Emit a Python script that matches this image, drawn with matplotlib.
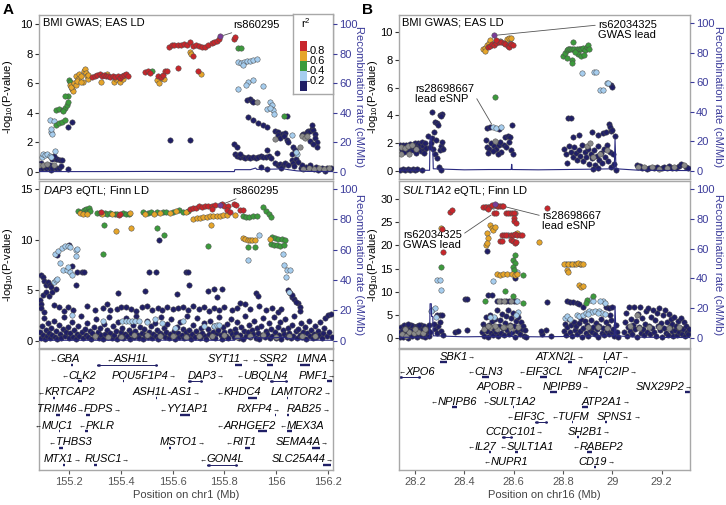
import matplotlib
matplotlib.use("Agg")
import matplotlib.pyplot as plt

plt.rcParams['font.family'] = ['Liberation Sans', 'DejaVu Sans']
plt.rcParams['mathtext.fontset'] = 'custom'
plt.rcParams['mathtext.rm'] = 'Liberation Sans'
plt.rcParams['mathtext.it'] = 'Liberation Sans:italic'

# ---- LD colour codes: n<0.2, b 0.2-0.4, g 0.4-0.6, o 0.6-0.8, r >0.8, p lead, x no LD ----
ld_colors = {'n': '#201f66', 'x': '#8a8a8a', 'b': '#a6cdee', 'g': '#3c9a3c',
             'o': '#e6a52a', 'r': '#c8262b', 'p': '#7a3d97'}

# ================= panel A, BMI GWAS (EAS LD) =================
gwas_a = [
    (155.070, 0.55, 'n'), (155.075, 0.35, 'n'), (155.080, 0.2, 'n'), (155.085, 0.45, 'x'), (155.090, 0.6, 'n'),
    (155.095, 0.3, 'n'), (155.100, 0.5, 'x'), (155.105, 0.4, 'n'), (155.110, 0.25, 'n'), (155.115, 0.55, 'x'),
    (155.120, 0.35, 'n'), (155.125, 0.45, 'n'), (155.130, 0.15, 'n'), (155.135, 0.3, 'n'), (155.140, 0.5, 'x'),
    (155.150, 0.3, 'n'), (155.160, 0.25, 'n'), (155.170, 0.4, 'n'), (155.197, 0.2, 'n'),
    (155.095, 1.0, 'b'), (155.100, 1.2, 'b'), (155.108, 1.15, 'b'), (155.115, 1.2, 'b'), (155.125, 1.1, 'b'),
    (155.130, 1.0, 'b'), (155.145, 1.4, 'b'),
    (155.135, 0.85, 'n'), (155.148, 0.9, 'n'), (155.155, 0.85, 'n'), (155.165, 0.8, 'n'), (155.172, 0.8, 'n'),
    (155.140, 1.05, 'n'),
    (155.125, 3.5, 'b'), (155.130, 2.7, 'b'), (155.135, 2.6, 'b'), (155.140, 3.45, 'b'), (155.132, 2.9, 'b'),
    (155.150, 3.2, 'g'), (155.160, 3.3, 'g'), (155.172, 3.4, 'g'), (155.185, 3.5, 'g'), (155.150, 4.2, 'g'),
    (155.160, 4.25, 'g'), (155.175, 4.2, 'g'), (155.185, 4.3, 'g'), (155.192, 4.5, 'g'), (155.195, 4.7, 'g'),
    (155.197, 5.1, 'g'), (155.185, 5.15, 'g'), (155.178, 4.1, 'g'),
    (155.197, 3.05, 'n'), (155.210, 3.35, 'n'),
    (155.199, 6.2, 'g'), (155.204, 6.1, 'g'), (155.205, 5.9, 'o'), (155.210, 5.6, 'o'), (155.214, 5.5, 'o'),
    (155.208, 5.75, 'o'), (155.220, 6.0, 'o'), (155.225, 5.85, 'o'), (155.228, 6.5, 'o'), (155.233, 6.4, 'x'),
    (155.236, 6.3, 'o'), (155.240, 6.6, 'o'), (155.244, 6.5, 'g'), (155.248, 6.45, 'o'), (155.252, 6.1, 'o'),
    (155.256, 6.8, 'o'), (155.260, 6.95, 'o'), (155.264, 6.7, 'o'), (155.268, 6.5, 'o'), (155.272, 6.3, 'o'),
    (155.232, 6.15, 'o'), (155.246, 6.05, 'o'), (155.275, 6.55, 'o'),
    (155.290, 6.4, 'r'), (155.300, 6.5, 'r'), (155.308, 6.55, 'r'), (155.318, 6.6, 'r'), (155.326, 6.5, 'r'),
    (155.335, 6.55, 'r'), (155.343, 6.45, 'r'), (155.350, 6.45, 'r'), (155.360, 6.4, 'r'), (155.368, 6.45, 'r'),
    (155.378, 6.4, 'r'), (155.388, 6.45, 'r'), (155.395, 6.35, 'r'), (155.405, 6.5, 'r'), (155.412, 6.55, 'r'),
    (155.420, 6.6, 'r'), (155.428, 6.5, 'r'),
    (155.322, 6.05, 'o'), (155.345, 6.6, 'o'), (155.372, 6.1, 'o'), (155.383, 6.25, 'o'), (155.398, 6.05, 'o'),
    (155.410, 6.3, 'o'),
    (155.495, 6.75, 'r'), (155.505, 6.8, 'r'), (155.512, 6.7, 'r'), (155.545, 6.45, 'r'), (155.555, 6.4, 'r'),
    (155.562, 6.55, 'r'), (155.571, 6.85, 'r'), (155.578, 6.8, 'r'), (155.520, 6.85, 'g'),
    (155.538, 6.2, 'o'), (155.546, 6.0, 'o'), (155.557, 6.35, 'o'), (155.565, 6.3, 'o'),
    (155.622, 7.0, 'r'), (155.699, 6.8, 'r'), (155.711, 6.65, 'o'),
    (155.590, 2.15, 'n'), (155.667, 2.15, 'n'),
    (155.587, 8.45, 'r'), (155.597, 8.55, 'r'), (155.606, 8.6, 'r'), (155.620, 8.6, 'r'), (155.632, 8.55, 'r'),
    (155.645, 8.65, 'r'), (155.655, 8.6, 'r'), (155.667, 8.75, 'r'), (155.678, 8.5, 'r'), (155.690, 8.55, 'r'),
    (155.700, 8.5, 'r'), (155.712, 8.45, 'r'), (155.725, 8.45, 'r'), (155.738, 8.6, 'r'), (155.750, 8.7, 'r'),
    (155.760, 8.8, 'r'), (155.770, 8.85, 'r'), (155.777, 8.95, 'r'),
    (155.667, 8.1, 'o'), (155.672, 8.0, 'o'), (155.680, 7.85, 'r'),
    (155.835, 9.0, 'r'), (155.841, 9.1, 'r'), (155.854, 8.4, 'g'), (155.862, 8.35, 'g'),
    (155.854, 7.45, 'b'), (155.865, 7.35, 'b'), (155.875, 7.45, 'b'), (155.888, 7.5, 'b'), (155.900, 7.5, 'b'),
    (155.912, 7.55, 'b'), (155.925, 7.6, 'b'), (155.873, 7.2, 'b'),
    (155.854, 5.6, 'b'), (155.890, 6.1, 'b'), (155.912, 6.2, 'b'), (155.950, 5.8, 'b'), (155.884, 5.9, 'b'),
    (155.886, 4.85, 'n'), (155.899, 4.9, 'n'), (155.905, 4.8, 'n'), (155.912, 4.75, 'n'), (155.925, 4.75, 'x'),
    (155.976, 4.7, 'b'), (155.983, 4.5, 'b'), (155.989, 4.2, 'b'), (155.965, 4.25, 'b'), (155.992, 3.9, 'b'),
    (155.975, 4.35, 'b'), (156.028, 3.75, 'g'), (156.040, 3.75, 'n'),
    (155.892, 3.7, 'n'), (155.912, 3.5, 'n'), (155.931, 3.3, 'n'), (155.950, 3.2, 'n'), (155.963, 3.05, 'n'),
    (155.995, 2.8, 'n'), (156.008, 2.7, 'n'), (156.021, 2.6, 'n'), (156.034, 2.65, 'n'), (156.005, 2.5, 'n'),
    (156.015, 2.3, 'n'), (156.030, 2.45, 'n'), (155.995, 2.25, 'x'),
    (156.040, 2.15, 'n'), (156.047, 2.0, 'n'), (156.060, 2.5, 'b'), (156.066, 1.7, 'n'), (156.072, 1.5, 'n'),
    (156.060, 1.2, 'n'), (156.079, 1.25, 'b'), (156.075, 1.35, 'b'),
    (156.060, 0.8, 'n'), (156.065, 0.6, 'n'), (156.075, 0.9, 'n'), (156.085, 0.7, 'n'), (156.070, 0.4, 'n'),
    (156.098, 2.5, 'n'), (156.105, 2.55, 'n'), (156.111, 2.6, 'n'), (156.118, 2.7, 'n'), (156.124, 2.8, 'n'),
    (156.131, 2.75, 'n'), (156.137, 2.9, 'n'), (156.143, 2.85, 'n'), (156.137, 3.15, 'n'), (156.150, 2.6, 'n'),
    (156.150, 2.3, 'n'), (156.156, 2.0, 'n'), (156.156, 1.7, 'n'), (156.098, 2.45, 'x'), (156.111, 2.3, 'x'),
    (156.092, 1.7, 'x'), (156.118, 2.45, 'x'), (156.131, 2.1, 'n'), (156.143, 1.9, 'n'),
    (155.841, 1.2, 'n'), (155.850, 1.05, 'n'), (155.860, 1.0, 'n'), (155.870, 1.0, 'n'), (155.880, 0.95, 'n'),
    (155.890, 1.0, 'n'), (155.900, 0.95, 'n'), (155.910, 1.0, 'n'), (155.920, 0.95, 'n'), (155.930, 1.0, 'n'),
    (155.940, 1.05, 'n'), (155.950, 1.0, 'n'), (155.960, 1.0, 'n'), (155.970, 1.1, 'n'), (155.980, 0.95, 'n'),
    (155.835, 1.9, 'n'), (155.847, 1.7, 'n'), (155.860, 1.25, 'n'), (155.963, 1.5, 'n'), (156.002, 1.3, 'n'),
    (155.995, 0.6, 'n'), (156.005, 0.5, 'n'), (156.015, 0.55, 'n'), (156.025, 0.45, 'n'), (156.035, 0.6, 'n'),
    (156.045, 0.5, 'n'), (156.020, 0.3, 'n'), (155.963, 0.2, 'n'), (155.940, 0.35, 'n'),
    (156.095, 0.3, 'n'), (156.105, 0.2, 'x'), (156.115, 0.35, 'n'), (156.125, 0.25, 'x'), (156.135, 0.3, 'n'),
    (156.145, 0.2, 'x'), (156.155, 0.35, 'n'), (156.165, 0.25, 'x'), (156.175, 0.3, 'n'), (156.185, 0.2, 'x'),
    (156.195, 0.3, 'n'), (156.205, 0.25, 'x'), (156.212, 0.3, 'n'), (156.100, 0.45, 'n'), (156.130, 0.45, 'n'),
    (156.160, 0.15, 'n'), (156.190, 0.1, 'n'),
    (155.783, 9.15, 'p'),
]

# ================= panel A, DAP3 eQTL (Finn LD) =================
eqtl_a = [
    (155.236, 12.8, 'g'), (155.242, 12.6, 'o'), (155.246, 12.75, 'g'), (155.252, 12.5, 'o'), (155.258, 12.9, 'g'),
    (155.264, 13.0, 'g'), (155.270, 12.75, 'g'), (155.276, 13.1, 'g'), (155.268, 12.5, 'o'), (155.282, 12.8, 'g'),
    (155.307, 12.6, 'g'), (155.318, 12.6, 'g'), (155.328, 12.55, 'o'), (155.338, 12.6, 'g'), (155.348, 12.5, 'g'),
    (155.358, 12.6, 'g'), (155.366, 12.55, 'o'), (155.376, 12.5, 'g'), (155.386, 12.55, 'g'), (155.392, 12.45, 'r'),
    (155.398, 12.5, 'r'), (155.408, 12.6, 'g'), (155.418, 12.55, 'g'), (155.430, 12.55, 'g'), (155.435, 12.6, 'o'),
    (155.325, 12.7, 'r'),
    (155.486, 12.7, 'g'), (155.492, 12.55, 'o'), (155.506, 12.6, 'g'), (155.518, 12.7, 'g'), (155.528, 12.55, 'o'),
    (155.540, 12.7, 'g'), (155.551, 12.65, 'o'), (155.562, 12.75, 'g'), (155.575, 12.7, 'g'), (155.590, 12.65, 'o'),
    (155.603, 12.7, 'g'), (155.613, 12.85, 'o'), (155.625, 12.9, 'g'), (155.638, 12.75, 'g'), (155.650, 12.7, 'o'),
    (155.660, 12.8, 'g'),
    (155.680, 12.0, 'o'), (155.693, 12.1, 'o'), (155.706, 12.15, 'o'), (155.719, 12.2, 'o'), (155.732, 12.25, 'o'),
    (155.744, 12.3, 'o'), (155.757, 12.3, 'o'), (155.770, 12.35, 'o'), (155.783, 12.35, 'o'), (155.796, 12.4, 'o'),
    (155.810, 12.4, 'o'), (155.841, 12.45, 'o'),
    (155.667, 13.0, 'r'), (155.678, 13.15, 'r'), (155.690, 13.1, 'r'), (155.700, 13.3, 'r'), (155.712, 13.2, 'r'),
    (155.725, 13.35, 'r'), (155.738, 13.3, 'r'), (155.750, 13.35, 'r'), (155.764, 13.4, 'r'), (155.790, 13.5, 'r'),
    (155.800, 13.35, 'r'), (155.815, 13.3, 'r'), (155.835, 13.5, 'r'), (155.845, 13.45, 'r'), (155.860, 12.95, 'r'),
    (155.870, 12.9, 'r'), (155.750, 13.05, 'r'), (155.808, 12.9, 'r'), (155.820, 12.75, 'r'),
    (155.870, 12.3, 'g'), (155.882, 12.2, 'g'), (155.895, 12.2, 'g'), (155.910, 12.35, 'g'), (155.925, 12.3, 'g'),
    (155.950, 13.2, 'g'), (155.960, 12.85, 'g'), (155.970, 12.5, 'g'), (155.980, 12.25, 'g'),
    (155.330, 8.6, 'g'), (155.336, 11.45, 'g'), (155.380, 10.85, 'o'), (155.438, 11.2, 'o'), (155.540, 11.2, 'g'),
    (155.566, 10.5, 'g'), (155.547, 10.0, 'n'), (155.735, 9.4, 'g'), (155.748, 11.45, 'o'),
    (155.870, 10.2, 'o'), (155.880, 10.05, 'o'), (155.890, 10.0, 'o'), (155.898, 10.0, 'o'), (155.905, 10.0, 'o'),
    (155.918, 10.0, 'o'), (155.892, 9.25, 'g'), (155.918, 9.25, 'g'), (155.935, 10.45, 'b'),
    (155.985, 10.25, 'g'), (155.995, 10.15, 'g'), (156.008, 10.1, 'g'), (156.021, 10.05, 'g'), (156.034, 10.0, 'g'),
    (155.980, 9.55, 'g'), (155.990, 9.5, 'g'), (156.002, 9.45, 'g'), (156.015, 9.4, 'g'), (156.028, 9.45, 'g'),
    (155.975, 10.1, 'o'),
    (155.892, 8.0, 'b'), (156.025, 8.55, 'b'), (156.030, 7.45, 'b'), (156.040, 7.0, 'b'), (156.038, 6.3, 'b'),
    (156.052, 7.0, 'b'),
    (156.045, 5.0, 'n'), (156.052, 4.7, 'n'), (156.060, 4.35, 'n'), (156.070, 4.1, 'n'), (156.085, 3.7, 'n'),
    (156.075, 3.8, 'n'), (156.090, 3.3, 'n'), (156.092, 2.9, 'n'), (156.060, 4.5, 'n'), (156.050, 4.8, 'b'),
    (155.146, 8.6, 'b'), (155.159, 8.9, 'b'), (155.172, 9.2, 'b'), (155.185, 9.35, 'b'), (155.197, 9.35, 'b'),
    (155.204, 9.25, 'b'), (155.165, 7.7, 'b'), (155.178, 7.0, 'b'), (155.191, 7.0, 'b'), (155.197, 7.3, 'b'),
    (155.205, 6.8, 'b'), (155.212, 6.5, 'b'), (155.225, 9.0, 'b'), (155.232, 9.1, 'b'), (155.226, 8.4, 'b'),
    (155.140, 5.8, 'b'), (155.148, 6.0, 'b'), (155.155, 6.15, 'b'),
    (155.152, 8.5, 'n'), (155.198, 9.45, 'n'), (155.210, 7.4, 'n'), (155.230, 6.8, 'n'), (155.250, 6.8, 'n'),
    (155.258, 6.8, 'n'), (155.225, 5.5, 'n'), (155.092, 6.5, 'n'), (155.098, 6.3, 'n'), (155.105, 5.9, 'n'),
    (155.110, 5.5, 'n'), (155.118, 5.85, 'n'), (155.125, 5.5, 'n'), (155.130, 5.3, 'n'), (155.088, 4.0, 'n'),
    (155.092, 3.6, 'n'), (155.100, 4.5, 'n'), (155.112, 4.8, 'n'), (155.122, 4.4, 'n'), (155.135, 4.8, 'n'),
    (155.150, 5.1, 'n'), (155.090, 3.2, 'n'), (155.105, 2.8, 'n'), (155.140, 3.5, 'n'), (155.160, 3.3, 'n'),
    (155.180, 2.9, 'n'), (155.195, 3.3, 'n'), (155.215, 3.0, 'n'),
    (155.510, 6.8, 'n'), (155.535, 6.8, 'n'), (155.650, 6.8, 'n'), (155.660, 6.8, 'n'), (155.665, 5.5, 'n'),
    (155.615, 4.6, 'n'), (155.493, 4.9, 'n'), (155.390, 4.7, 'n'), (155.735, 4.9, 'n'), (155.760, 5.1, 'n'),
    (155.790, 5.1, 'n'), (155.770, 4.35, 'n'), (155.921, 4.7, 'n'), (155.928, 4.45, 'n'), (155.860, 3.7, 'n'),
    (155.270, 3.4, 'n'), (155.300, 3.0, 'n'), (155.330, 3.2, 'n'), (155.345, 3.6, 'n'), (155.360, 3.0, 'n'),
    (155.385, 3.1, 'n'), (155.400, 3.3, 'n'), (155.420, 3.3, 'n'), (155.440, 3.1, 'n'), (155.460, 2.9, 'n'),
    (155.480, 3.3, 'n'), (155.500, 3.4, 'n'), (155.520, 3.0, 'n'), (155.545, 3.2, 'n'), (155.560, 3.0, 'n'),
    (155.580, 3.3, 'n'), (155.600, 3.1, 'n'), (155.620, 3.2, 'n'), (155.640, 3.3, 'n'), (155.660, 3.0, 'n'),
    (155.680, 3.4, 'n'), (155.700, 3.1, 'n'), (155.720, 3.3, 'n'), (155.740, 2.9, 'n'), (155.760, 3.2, 'n'),
    (155.780, 3.0, 'n'), (155.800, 3.3, 'n'), (155.830, 3.0, 'n'), (155.850, 3.2, 'n'), (155.880, 3.6, 'n'),
    (155.900, 3.1, 'n'), (155.935, 3.4, 'n'), (155.960, 3.0, 'n'), (155.985, 3.2, 'n'), (156.005, 2.8, 'n'),
    (156.020, 3.1, 'n'),
    (155.330, 2.0, 'b'), (155.405, 2.0, 'b'), (155.418, 2.0, 'b'), (155.430, 2.0, 'b'), (155.442, 2.0, 'b'),
    (155.455, 2.0, 'b'), (155.470, 2.0, 'b'), (155.500, 1.9, 'b'), (155.530, 2.1, 'b'), (155.560, 1.8, 'b'),
    (155.640, 2.0, 'b'), (155.720, 1.5, 'b'), (155.760, 1.5, 'b'), (155.770, 1.6, 'b'), (155.780, 1.6, 'b'),
    (155.210, 2.5, 'b'), (155.610, 1.3, 'b'),
    (155.300, 0.5, 'x'), (155.400, 0.4, 'x'), (155.500, 0.6, 'x'), (155.600, 0.5, 'x'), (155.700, 0.45, 'x'),
    (155.800, 0.55, 'x'), (155.900, 0.5, 'x'), (156.000, 0.4, 'x'), (156.100, 0.5, 'x'), (155.350, 0.35, 'x'),
    (155.450, 0.55, 'x'), (155.550, 0.45, 'x'), (155.650, 0.4, 'x'), (155.750, 0.5, 'x'), (155.850, 0.35, 'x'),
    (155.950, 0.6, 'x'), (156.050, 0.45, 'x'), (156.150, 0.5, 'x'),
    (155.783, 13.4, 'p'),
]
# low-significance background variants of the eQTL panel (all r2 < 0.2)
eqtl_a_background = [
    (155.086, 0.9), (155.090, 0.3), (155.094, 1.5), (155.098, 0.6), (155.102, 2.2), (155.106, 0.2), (155.110, 1.1),
    (155.114, 0.5), (155.118, 1.8), (155.122, 0.8), (155.126, 0.3), (155.130, 1.3), (155.135, 0.6), (155.140, 2.0),
    (155.145, 0.4), (155.150, 1.0), (155.155, 0.2), (155.160, 1.6), (155.165, 0.7), (155.170, 0.3), (155.175, 1.2),
    (155.180, 2.3), (155.185, 0.5), (155.190, 0.9), (155.195, 1.4), (155.200, 0.3), (155.205, 0.8), (155.210, 1.9),
    (155.215, 0.4), (155.220, 1.1), (155.225, 0.2), (155.230, 0.7), (155.235, 1.5), (155.240, 0.5), (155.245, 2.4),
    (155.250, 0.9), (155.255, 0.3), (155.260, 1.2), (155.265, 0.6), (155.270, 1.8), (155.275, 0.4), (155.280, 1.0),
    (155.285, 0.2), (155.290, 0.8), (155.295, 1.4), (155.300, 0.5), (155.305, 2.1), (155.310, 0.9), (155.315, 0.3),
    (155.320, 1.3), (155.325, 0.6), (155.330, 0.2), (155.335, 1.7), (155.340, 0.7), (155.345, 1.1), (155.350, 0.4),
    (155.355, 2.3), (155.360, 0.8), (155.365, 0.3), (155.370, 1.5), (155.375, 0.6), (155.380, 1.0), (155.385, 0.2),
    (155.390, 1.9), (155.395, 0.5), (155.400, 0.9), (155.405, 1.3), (155.410, 0.3), (155.415, 0.7), (155.420, 2.2),
    (155.425, 0.5), (155.430, 1.1), (155.435, 0.2), (155.440, 0.8), (155.445, 1.6), (155.450, 0.4), (155.455, 1.0),
    (155.460, 2.4), (155.465, 0.6), (155.470, 0.3), (155.475, 1.4), (155.480, 0.8), (155.485, 0.2), (155.490, 1.2),
    (155.495, 0.6), (155.500, 2.0), (155.505, 0.4), (155.510, 0.9), (155.515, 1.5), (155.520, 0.3), (155.525, 0.7),
    (155.530, 1.8), (155.535, 0.5), (155.540, 1.1), (155.545, 0.2), (155.550, 0.8), (155.555, 2.3), (155.560, 0.6),
    (155.565, 1.3), (155.570, 0.4), (155.575, 0.9), (155.580, 1.7), (155.585, 0.3), (155.590, 0.7), (155.595, 2.1),
    (155.600, 0.5), (155.605, 1.0), (155.610, 0.2), (155.615, 1.4), (155.620, 0.8), (155.625, 0.4), (155.630, 1.9),
    (155.635, 0.6), (155.640, 1.2), (155.645, 0.3), (155.650, 0.9), (155.655, 2.4), (155.660, 0.5), (155.665, 1.1),
    (155.670, 0.2), (155.675, 0.7), (155.680, 1.6), (155.685, 0.4), (155.690, 1.0), (155.695, 2.2), (155.700, 0.6),
    (155.705, 0.3), (155.710, 1.3), (155.715, 0.8), (155.720, 1.8), (155.725, 0.5), (155.730, 0.2), (155.735, 1.2),
    (155.740, 0.7), (155.745, 2.0), (155.750, 0.4), (155.755, 0.9), (155.760, 1.5), (155.765, 0.3), (155.770, 0.8),
    (155.775, 1.1), (155.780, 2.3), (155.785, 0.6), (155.790, 0.2), (155.795, 1.4), (155.800, 0.9), (155.805, 0.5),
    (155.810, 1.7), (155.815, 0.3), (155.820, 1.0), (155.825, 2.1), (155.830, 0.7), (155.835, 0.4), (155.840, 1.2),
    (155.845, 0.8), (155.850, 1.9), (155.855, 0.3), (155.860, 0.6), (155.865, 1.4), (155.870, 0.2), (155.875, 1.0),
    (155.880, 2.4), (155.885, 0.5), (155.890, 0.9), (155.895, 1.6), (155.900, 0.4), (155.905, 1.1), (155.910, 0.7),
    (155.915, 2.0), (155.920, 0.3), (155.925, 1.3), (155.930, 0.8), (155.935, 0.2), (155.940, 1.5), (155.945, 0.6),
    (155.950, 2.2), (155.955, 0.4), (155.960, 1.0), (155.965, 0.7), (155.970, 1.8), (155.975, 0.3), (155.980, 1.2),
    (155.985, 0.5), (155.990, 2.3), (155.995, 0.9), (156.000, 0.3), (156.005, 1.4), (156.010, 0.6), (156.015, 1.9),
    (156.020, 0.2), (156.025, 1.1), (156.030, 0.7), (156.035, 2.1), (156.040, 0.4), (156.045, 1.3), (156.050, 0.8),
    (156.055, 0.3), (156.060, 1.6), (156.065, 0.5), (156.070, 2.4), (156.075, 1.0), (156.080, 0.3), (156.085, 1.2),
    (156.090, 0.6), (156.095, 1.8), (156.100, 0.4), (156.105, 0.9), (156.110, 1.4), (156.115, 0.2), (156.120, 0.8),
    (156.125, 2.0), (156.130, 0.5), (156.135, 1.1), (156.140, 0.3), (156.145, 0.7), (156.150, 1.5), (156.155, 0.4),
    (156.160, 1.0), (156.165, 0.6), (156.170, 1.9), (156.175, 0.3), (156.180, 0.8), (156.185, 1.3), (156.190, 2.2),
    (156.195, 0.5), (156.200, 2.5), (156.205, 0.9), (156.210, 2.6), (156.214, 0.4),
]

recomb_a_pos = [155.08, 155.30, 155.50, 155.70, 155.838, 155.840, 155.90, 155.92, 155.925, 156.00, 156.02,
                156.05, 156.08, 156.12, 156.22]
recomb_a_rate = [0.3, 0.3, 0.4, 0.3, 0.3, 1.6, 1.6, 2.7, 1.8, 2.0, 2.4, 1.5, 0.8, 0.4, 0.3]

# ================= panel B, BMI GWAS (EAS LD) =================
gwas_b = [
    (28.138, 1.9, 'n'), (28.142, 1.7, 'x'), (28.146, 1.5, 'n'), (28.150, 1.85, 'n'), (28.154, 1.4, 'n'),
    (28.158, 1.65, 'x'), (28.162, 1.9, 'n'), (28.166, 1.55, 'n'), (28.170, 1.8, 'x'), (28.174, 1.45, 'n'),
    (28.178, 1.95, 'n'), (28.182, 1.6, 'n'), (28.186, 1.85, 'x'), (28.190, 1.5, 'n'), (28.194, 1.75, 'n'),
    (28.198, 2.0, 'n'), (28.202, 1.6, 'x'), (28.206, 1.9, 'n'), (28.210, 1.55, 'n'), (28.214, 2.05, 'n'),
    (28.218, 1.7, 'n'), (28.222, 1.95, 'n'), (28.226, 1.45, 'n'), (28.230, 2.1, 'n'), (28.234, 1.8, 'n'),
    (28.238, 1.5, 'n'), (28.242, 2.0, 'n'), (28.246, 1.65, 'n'), (28.140, 0.1, 'n'), (28.150, 0.15, 'n'),
    (28.160, 0.08, 'n'), (28.170, 0.12, 'n'), (28.180, 0.1, 'n'), (28.190, 0.15, 'n'), (28.200, 0.1, 'n'),
    (28.210, 0.12, 'n'), (28.230, 0.1, 'n'), (28.145, 1.2, 'x'), (28.175, 1.25, 'x'), (28.205, 1.3, 'n'),
    (28.235, 1.3, 'n'),
    (28.269, 4.25, 'n'), (28.283, 3.5, 'n'), (28.290, 3.45, 'n'), (28.293, 3.3, 'n'), (28.300, 4.0, 'n'),
    (28.310, 4.1, 'n'), (28.306, 3.95, 'n'), (28.267, 2.4, 'n'), (28.265, 2.0, 'n'), (28.272, 1.6, 'n'),
    (28.280, 1.25, 'n'), (28.260, 1.7, 'n'), (28.300, 1.5, 'n'), (28.305, 1.8, 'n'), (28.315, 1.6, 'n'),
    (28.290, 0.9, 'n'), (28.296, 0.3, 'n'), (28.305, 0.1, 'n'), (28.285, 2.2, 'n'), (28.275, 2.8, 'n'),
    (28.310, 2.1, 'n'), (28.252, 2.5, 'n'),
    (28.477, 8.75, 'o'), (28.483, 8.85, 'o'), (28.491, 9.05, 'o'), (28.500, 9.2, 'o'), (28.504, 9.4, 'o'),
    (28.572, 9.5, 'o'), (28.580, 9.55, 'o'), (28.590, 9.6, 'o'), (28.485, 8.6, 'o'),
    (28.495, 8.95, 'r'), (28.505, 9.0, 'r'), (28.512, 9.1, 'r'), (28.520, 9.05, 'r'), (28.530, 9.2, 'r'),
    (28.540, 9.25, 'r'), (28.550, 9.3, 'r'), (28.560, 9.2, 'r'), (28.565, 9.1, 'r'), (28.575, 9.0, 'r'),
    (28.582, 8.95, 'r'), (28.590, 9.1, 'r'), (28.596, 9.05, 'r'), (28.528, 9.4, 'r'),
    (28.515, 9.15, 'x'), (28.545, 9.35, 'x'), (28.585, 9.2, 'x'),
    (28.524, 5.35, 'g'), (28.518, 3.15, 'b'), (28.530, 3.1, 'b'), (28.548, 3.15, 'b'),
    (28.490, 3.1, 'n'), (28.505, 3.2, 'n'), (28.540, 3.0, 'n'), (28.595, 3.3, 'n'), (28.565, 2.45, 'n'),
    (28.575, 2.5, 'n'), (28.585, 2.45, 'n'), (28.486, 2.2, 'n'), (28.492, 1.75, 'n'), (28.500, 1.6, 'n'),
    (28.510, 2.0, 'n'), (28.520, 1.8, 'n'), (28.530, 1.55, 'n'), (28.540, 1.85, 'n'), (28.550, 1.4, 'n'),
    (28.560, 1.9, 'n'), (28.570, 1.7, 'n'), (28.580, 2.1, 'n'), (28.590, 1.5, 'n'), (28.598, 1.2, 'n'),
    (28.495, 1.3, 'n'), (28.515, 1.45, 'n'), (28.545, 2.1, 'n'), (28.535, 1.2, 'n'), (28.525, 2.15, 'x'),
    (28.801, 8.25, 'g'), (28.808, 8.5, 'g'), (28.815, 8.7, 'g'), (28.822, 8.8, 'g'), (28.830, 8.75, 'g'),
    (28.838, 8.8, 'g'), (28.846, 8.75, 'g'), (28.855, 8.8, 'g'), (28.864, 8.75, 'g'), (28.872, 8.8, 'g'),
    (28.882, 8.85, 'g'), (28.890, 8.7, 'g'), (28.896, 8.95, 'g'), (28.902, 9.05, 'g'), (28.906, 8.8, 'g'),
    (28.840, 9.3, 'g'), (28.835, 8.0, 'g'), (28.838, 7.75, 'g'), (28.860, 8.4, 'g'), (28.875, 8.25, 'g'),
    (28.886, 8.35, 'g'), (28.850, 8.55, 'g'), (28.818, 8.15, 'g'), (28.826, 8.8, 'x'), (28.868, 8.8, 'x'),
    (28.878, 7.05, 'b'), (28.925, 7.15, 'b'), (28.933, 7.1, 'b'), (28.977, 6.35, 'b'), (28.983, 6.3, 'b'),
    (28.950, 5.85, 'b'), (28.962, 5.85, 'b'), (28.993, 6.2, 'n'), (28.998, 6.05, 'n'),
    (28.820, 3.8, 'n'), (28.834, 3.8, 'n'), (28.985, 3.4, 'n'), (28.992, 3.2, 'n'), (28.840, 2.45, 'n'),
    (28.866, 2.6, 'n'), (28.916, 2.8, 'n'), (28.942, 2.6, 'n'), (28.962, 2.7, 'n'), (28.975, 2.8, 'n'),
    (28.995, 2.85, 'n'), (29.000, 2.95, 'n'), (29.010, 2.5, 'n'),
    (28.805, 1.6, 'n'), (28.812, 1.2, 'n'), (28.818, 0.6, 'n'), (28.825, 1.8, 'n'), (28.832, 1.4, 'n'),
    (28.840, 1.0, 'n'), (28.846, 1.7, 'n'), (28.852, 1.3, 'n'), (28.858, 0.8, 'n'), (28.864, 1.5, 'n'),
    (28.870, 1.1, 'n'), (28.876, 1.9, 'n'), (28.882, 0.7, 'n'), (28.888, 1.4, 'n'), (28.894, 1.0, 'n'),
    (28.900, 1.6, 'n'), (28.906, 0.5, 'n'), (28.912, 1.2, 'n'), (28.918, 0.9, 'n'), (28.924, 1.5, 'n'),
    (28.930, 0.4, 'n'), (28.936, 1.1, 'n'), (28.942, 1.8, 'n'), (28.948, 0.8, 'n'), (28.954, 1.3, 'n'),
    (28.960, 0.6, 'n'), (28.966, 1.6, 'n'), (28.972, 1.0, 'n'), (28.978, 1.9, 'n'), (28.984, 0.7, 'n'),
    (28.990, 1.4, 'n'), (28.996, 0.3, 'n'), (29.002, 1.2, 'n'), (29.008, 0.5, 'n'), (29.014, 0.1, 'n'),
    (28.940, 0.2, 'n'), (28.920, 0.15, 'n'),
    (28.896, 1.8, 'x'), (28.920, 1.0, 'x'), (28.950, 1.2, 'x'), (28.980, 1.5, 'x'), (28.910, 2.0, 'x'),
    (29.099, 0.4, 'n'), (29.105, 0.3, 'x'), (29.112, 0.35, 'n'), (29.120, 0.2, 'n'), (29.130, 0.3, 'x'),
    (29.140, 0.15, 'n'), (29.150, 0.25, 'n'), (29.160, 0.3, 'x'), (29.170, 0.2, 'n'), (29.180, 0.3, 'n'),
    (29.190, 0.15, 'x'), (29.200, 0.25, 'n'), (29.210, 0.3, 'n'), (29.220, 0.2, 'x'), (29.230, 0.35, 'n'),
    (29.240, 0.2, 'n'), (29.250, 0.3, 'x'), (29.260, 0.25, 'n'), (29.270, 0.35, 'n'), (29.280, 0.5, 'n'),
    (29.290, 0.4, 'x'), (29.300, 0.3, 'n'), (29.308, 0.2, 'n'),
    (28.520, 9.75, 'p'),
]

# ================= panel B, SULT1A2 eQTL (Finn LD) =================
eqtl_b = [
    (28.270, 6.1, 'b'), (28.279, 6.45, 'b'), (28.265, 5.8, 'b'), (28.285, 4.6, 'b'),
    (28.290, 5.0, 'n'), (28.300, 5.0, 'n'), (28.310, 5.0, 'n'), (28.300, 3.5, 'n'), (28.275, 3.0, 'n'),
    (28.289, 12.55, 'b'), (28.302, 12.6, 'b'), (28.305, 10.4, 'b'), (28.306, 15.3, 'g'),
    (28.306, 23.8, 'o'), (28.310, 23.5, 'r'), (28.315, 18.5, 'r'), (28.342, 27.1, 'r'), (28.349, 27.6, 'r'),
    (28.403, 8.45, 'n'), (28.411, 8.5, 'n'), (28.362, 1.4, 'n'), (28.409, 1.8, 'n'), (28.376, 1.6, 'n'),
    (28.475, 28.3, 'r'), (28.482, 28.25, 'x'), (28.488, 28.3, 'r'), (28.494, 28.2, 'x'), (28.500, 28.3, 'r'),
    (28.511, 28.65, 'r'), (28.531, 28.55, 'r'), (28.538, 28.5, 'r'), (28.545, 28.5, 'r'), (28.552, 28.45, 'r'),
    (28.558, 28.4, 'r'), (28.518, 28.6, 'x'), (28.497, 27.9, 'r'), (28.520, 26.95, 'r'), (28.527, 27.0, 'r'),
    (28.570, 26.9, 'r'), (28.578, 26.95, 'r'), (28.585, 26.9, 'x'), (28.592, 27.0, 'r'), (28.600, 27.05, 'r'),
    (28.606, 26.95, 'x'), (28.600, 25.85, 'r'), (28.603, 25.2, 'r'), (28.610, 24.9, 'r'),
    (28.551, 22.2, 'r'), (28.560, 22.3, 'r'), (28.570, 22.2, 'r'), (28.578, 22.25, 'x'), (28.588, 22.3, 'r'),
    (28.597, 22.15, 'r'), (28.606, 22.4, 'r'), (28.615, 22.2, 'r'), (28.625, 22.3, 'r'), (28.632, 22.2, 'r'),
    (28.546, 21.0, 'r'), (28.552, 20.95, 'r'), (28.590, 21.1, 'r'), (28.598, 21.0, 'r'), (28.604, 20.5, 'r'),
    (28.608, 20.8, 'r'),
    (28.504, 24.4, 'o'), (28.511, 23.7, 'o'), (28.518, 23.3, 'o'), (28.490, 22.6, 'o'), (28.497, 21.5, 'o'),
    (28.486, 20.1, 'o'), (28.492, 20.5, 'o'), (28.612, 22.6, 'o'), (28.524, 24.0, 'o'),
    (28.492, 18.8, 'n'),
    (28.605, 17.9, 'g'), (28.599, 16.9, 'g'), (28.605, 16.2, 'g'), (28.597, 15.4, 'g'), (28.603, 14.7, 'g'),
    (28.531, 13.85, 'o'), (28.545, 13.7, 'o'), (28.558, 13.8, 'o'), (28.572, 13.75, 'o'), (28.592, 13.85, 'o'),
    (28.605, 13.6, 'o'), (28.612, 13.9, 'o'), (28.612, 14.2, 'b'), (28.518, 12.3, 'b'),
    (28.565, 10.2, 'g'), (28.484, 7.9, 'g'), (28.596, 9.0, 'g'), (28.639, 7.5, 'g'), (28.636, 13.5, 'g'),
    (28.531, 8.05, 'n'), (28.540, 8.0, 'x'), (28.550, 8.05, 'n'), (28.560, 8.0, 'x'), (28.570, 8.05, 'n'),
    (28.580, 8.0, 'n'), (28.590, 8.05, 'x'), (28.600, 8.0, 'n'), (28.608, 8.05, 'n'),
    (28.612, 7.9, 'b'), (28.619, 5.7, 'b'), (28.520, 4.6, 'b'), (28.505, 4.5, 'b'), (28.610, 5.0, 'b'),
    (28.497, 9.3, 'n'), (28.511, 9.35, 'n'), (28.606, 12.9, 'n'),
    (28.701, 20.8, 'o'), (28.735, 28.0, 'r'), (28.735, 7.7, 'n'), (28.731, 1.8, 'n'), (28.752, 0.4, 'n'),
    (28.715, 0.9, 'n'), (28.710, 1.5, 'n'),
    (28.805, 16.0, 'o'), (28.812, 16.0, 'x'), (28.820, 16.05, 'o'), (28.828, 16.0, 'x'), (28.836, 16.0, 'o'),
    (28.844, 16.05, 'x'), (28.852, 16.0, 'o'), (28.860, 16.1, 'o'), (28.868, 16.0, 'x'), (28.875, 16.0, 'o'),
    (28.882, 16.05, 'o'), (28.815, 14.7, 'o'), (28.822, 14.35, 'o'), (28.865, 11.5, 'o'), (28.872, 11.1, 'o'),
    (28.880, 11.3, 'o'),
    (28.896, 8.25, 'g'), (28.923, 9.0, 'g'), (28.892, 7.5, 'g'),
    (28.909, 8.2, 'b'), (28.920, 7.9, 'b'), (28.964, 7.9, 'b'), (28.970, 7.5, 'b'), (28.950, 8.1, 'b'),
    (28.815, 7.9, 'n'), (28.830, 7.85, 'n'), (28.842, 7.8, 'n'), (28.855, 7.6, 'n'), (28.865, 7.4, 'n'),
    (28.880, 6.8, 'n'),
    (28.808, 4.3, 'b'), (28.815, 4.7, 'b'), (28.828, 4.2, 'b'), (28.855, 5.0, 'b'), (28.866, 4.7, 'b'),
    (28.880, 5.0, 'b'), (28.893, 5.5, 'b'), (28.905, 5.8, 'b'), (28.918, 5.7, 'b'), (28.930, 5.9, 'b'),
    (28.945, 5.8, 'b'), (28.958, 5.5, 'b'), (28.970, 5.2, 'b'), (28.900, 5.2, 'b'), (28.940, 5.4, 'b'),
    (28.975, 6.8, 'n'), (28.985, 6.5, 'n'), (29.000, 6.6, 'n'), (28.990, 5.0, 'n'),
    (28.524, 28.9, 'p'),
]
eqtl_b_background = [
    (28.138, 0.3), (28.141, 1.2), (28.144, 2.4), (28.150, 1.8), (28.153, 0.2), (28.156, 2.8), (28.159, 1.0),
    (28.165, 2.1), (28.168, 1.5), (28.171, 0.1), (28.174, 2.6), (28.180, 0.6), (28.183, 2.2), (28.186, 1.7),
    (28.189, 0.4), (28.192, 2.7), (28.198, 0.9), (28.201, 2.3), (28.204, 1.6), (28.207, 0.3), (28.210, 2.5),
    (28.216, 0.7), (28.219, 2.0), (28.222, 1.2), (28.225, 2.9), (28.228, 0.5), (28.231, 1.9), (28.237, 2.6),
    (28.240, 0.2), (28.243, 1.5), (28.246, 2.2), (28.249, 0.8), (28.252, 1.7), (28.255, 2.8), (28.258, 0.4),
    (28.262, 1.3), (28.185, 2.9), (28.215, 2.9), (28.170, 2.95), (28.283, 2.0), (28.290, 1.0), (28.295, 2.5),
    (28.305, 1.5), (28.312, 0.6),
    (28.472, 1.2), (28.476, 3.1), (28.480, 0.5), (28.484, 2.3), (28.488, 4.5), (28.492, 1.6), (28.496, 0.3),
    (28.500, 2.8), (28.504, 5.0), (28.508, 1.1), (28.512, 3.6), (28.516, 0.7), (28.520, 2.0), (28.524, 4.2),
    (28.528, 1.4), (28.532, 6.1), (28.536, 0.4), (28.540, 2.6), (28.544, 3.9), (28.548, 1.0), (28.552, 5.2),
    (28.556, 2.2), (28.560, 0.6), (28.564, 3.3), (28.568, 4.8), (28.572, 1.8), (28.576, 6.0), (28.580, 0.9),
    (28.584, 2.9), (28.588, 4.3), (28.592, 1.3), (28.596, 5.5), (28.600, 2.5), (28.604, 0.2), (28.608, 3.7),
    (28.612, 1.5), (28.616, 4.6), (28.620, 2.1), (28.624, 0.8), (28.628, 3.4), (28.632, 1.9), (28.636, 2.7),
    (28.640, 0.5), (28.645, 1.7), (28.650, 0.3),
    (28.803, 1.5), (28.808, 3.0), (28.813, 0.6), (28.818, 2.3), (28.823, 4.0), (28.828, 1.2), (28.833, 2.8),
    (28.838, 0.4), (28.843, 3.5), (28.848, 1.8), (28.853, 2.6), (28.858, 0.9), (28.863, 3.2), (28.868, 1.5),
    (28.873, 4.2), (28.878, 0.3), (28.883, 2.1), (28.888, 3.7), (28.893, 1.0), (28.898, 2.9), (28.903, 0.5),
    (28.908, 1.7), (28.913, 3.9), (28.918, 1.3), (28.923, 2.4), (28.928, 0.8), (28.933, 3.3), (28.938, 1.9),
    (28.943, 0.2), (28.948, 2.7), (28.953, 4.1), (28.958, 1.1), (28.963, 2.2), (28.968, 0.6), (28.973, 3.4),
    (28.978, 1.6), (28.983, 2.5), (28.988, 0.9), (28.993, 3.8), (28.998, 1.4), (29.003, 2.0), (29.008, 0.4),
    (29.013, 2.9), (29.018, 1.2), (29.023, 0.3),
    (29.048, 1.2), (29.052, 3.4), (29.056, 5.5), (29.060, 0.4), (29.064, 2.3), (29.068, 6.8), (29.072, 1.6),
    (29.076, 4.1), (29.080, 0.8), (29.084, 2.9), (29.088, 6.7), (29.092, 1.9), (29.096, 3.6), (29.100, 0.3),
    (29.104, 5.2), (29.108, 2.4), (29.112, 6.6), (29.116, 1.1), (29.120, 4.3), (29.124, 2.0), (29.128, 0.6),
    (29.132, 3.1), (29.136, 5.8), (29.140, 1.4), (29.144, 6.5), (29.148, 2.7), (29.152, 0.9), (29.156, 4.6),
    (29.160, 2.2), (29.164, 6.1), (29.168, 1.3), (29.172, 3.8), (29.176, 0.5), (29.180, 5.4), (29.184, 2.6),
    (29.188, 6.4), (29.192, 1.7), (29.196, 3.3), (29.200, 0.2), (29.204, 4.9), (29.208, 2.1), (29.212, 6.0),
    (29.216, 1.0), (29.220, 3.5), (29.224, 0.7), (29.228, 5.1), (29.232, 2.3), (29.236, 4.2), (29.240, 1.5),
    (29.244, 3.0), (29.248, 0.4), (29.252, 4.5), (29.256, 1.8), (29.260, 2.6), (29.264, 0.6), (29.268, 3.7),
    (29.272, 1.2), (29.276, 2.2), (29.280, 4.3), (29.284, 0.9), (29.288, 1.9), (29.292, 3.4), (29.296, 0.5),
    (29.300, 2.7), (29.304, 1.4), (29.308, 0.8), (29.312, 2.0),
]
eqtl_b_grey = [
    (28.147, 0.8), (28.162, 0.5), (28.177, 1.3), (28.195, 1.1), (28.213, 1.4), (28.234, 1.0), (28.160, 1.9),
    (28.200, 2.0), (28.240, 1.9), (28.478, 2.0), (28.506, 2.4), (28.534, 1.9), (28.562, 2.3), (28.590, 2.0),
    (28.618, 2.4), (28.495, 2.5), (28.525, 2.5), (28.555, 2.45), (28.585, 2.5), (28.900, 2.4), (28.940, 2.3),
    (28.980, 2.1), (29.070, 2.5), (29.110, 2.2), (29.150, 2.4), (29.190, 2.3), (29.230, 2.1), (29.270, 2.4),
    (29.100, 5.0),
]

recomb_b_pos = [28.136, 28.259, 28.261, 28.266, 28.267, 28.272, 28.274, 28.40, 28.50, 28.590, 28.592, 28.594,
                28.70, 28.90, 29.008, 29.011, 29.015, 29.10, 29.20, 29.315]
recomb_b_rate = [0.5, 0.5, 23.0, 23.0, 14.5, 14.5, 1.5, 0.8, 1.0, 1.0, 4.5, 1.0,
                 0.8, 1.2, 1.5, 21.5, 1.5, 0.6, 0.4, 0.3]

# ================= genes: (name, strand, label centre Mb, row, start, end) =================
genes_a = [
    ('GBA', '-', 155.187, 0, 155.206, 155.217), ('ASH1L', '-', 155.432, 0, 155.307, 155.538),
    ('SYT11', '+', 155.809, 0, 155.841, 155.867), ('SSR2', '-', 155.979, 0, 155.963, 155.989),
    ('LMNA', '+', 156.146, 0, 156.092, 156.131),
    ('CLK2', '-', 155.245, 1, 155.236, 155.249), ('POU5F1P4', '+', 155.483, 1, 155.409, 155.412),
    ('DAP3', '+', 155.721, 1, 155.660, 155.712), ('UBQLN4', '-', 155.950, 1, 155.976, 156.040),
    ('PMF1', '+', 156.150, 1, 156.195, 156.214),
    ('KRTCAP2', '-', 155.197, 2, 155.139, 155.145), ('ASH1L-AS1', '+', 155.567, 2, 155.536, 155.540),
    ('KHDC4', '-', 155.860, 2, 155.892, 155.925), ('LAMTOR2', '+', 156.088, 2, 156.040, 156.046),
    ('TRIM46', '+', 155.159, 3, 155.150, 155.165), ('FDPS', '+', 155.322, 3, 155.266, 155.279),
    ('YY1AP1', '-', 155.650, 3, 155.629, 155.667), ('RXFP4', '+', 155.925, 3, 155.994, 155.999),
    ('RAB25', '+', 156.118, 3, 156.043, 156.050),
    ('MUC1', '-', 155.146, 4, 155.160, 155.165), ('PKLR', '-', 155.313, 4, 155.263, 155.273),
    ('ARHGEF2', '-', 155.889, 4, 155.931, 155.963), ('MEX3A', '-', 156.105, 4, 156.043, 156.060),
    ('THBS3', '-', 155.210, 5, 155.163, 155.178), ('MSTO1', '+', 155.631, 5, 155.587, 155.592),
    ('RIT1', '-', 155.869, 5, 155.880, 155.897), ('SEMA4A', '+', 156.092, 5, 156.137, 156.169),
    ('MTX1', '+', 155.168, 6, 155.178, 155.185), ('RUSC1', '+', 155.339, 6, 155.296, 155.309),
    ('GON4L', '-', 155.796, 6, 155.732, 155.847), ('SLC25A44', '+', 156.095, 6, 156.182, 156.210),
]
genes_b = [
    ('SBK1', '+', 28.365, 0, 28.300, 28.330), ('ATXN2L', '+', 28.781, 0, 28.820, 28.835),
    ('LAT', '+', 29.007, 0, 28.973, 28.978),
    ('XPO6', '-', 28.212, 1, 28.136, 28.220), ('CLN3', '-', 28.490, 1, 28.470, 28.500),
    ('EIF3CL', '-', 28.716, 1, 28.707, 28.734), ('NFATC2IP', '+', 28.973, 1, 28.947, 28.957),
    ('APOBR', '+', 28.538, 2, 28.499, 28.502), ('NPIPB9', '+', 28.804, 2, 28.747, 28.774),
    ('SNX29P2', '+', 29.203, 2, 29.294, 29.315),
    ('NPIPB6', '-', 28.362, 3, 28.349, 28.370), ('SULT1A2', '-', 28.588, 3, 28.599, 28.603),
    ('ATP2A1', '+', 28.966, 3, 28.876, 28.903),
    ('EIF3C', '-', 28.655, 4, 28.686, 28.734), ('TUFM', '-', 28.835, 4, 28.838, 28.842),
    ('SPNS1', '+', 29.020, 4, 28.970, 28.980),
    ('CCDC101', '+', 28.595, 5, 28.551, 28.592), ('SH2B1', '+', 28.899, 5, 28.855, 28.866),
    ('IL27', '-', 28.477, 6, 28.501, 28.508), ('SULT1A1', '-', 28.659, 6, 28.605, 28.619),
    ('RABEP2', '-', 28.946, 6, 28.896, 28.916),
    ('NUPR1', '-', 28.574, 7, 28.539, 28.542), ('CD19', '+', 28.930, 7, 28.927, 28.934),
]

a_xticks = [155.2, 155.4, 155.6, 155.8, 156.0, 156.2]
a_xticklabels = ['155.2', '155.4', '155.6', '155.8', '156', '156.2']
b_xticks = [28.2, 28.4, 28.6, 28.8, 29.0, 29.2]
b_xticklabels = ['28.2', '28.4', '28.6', '28.8', '29', '29.2']

# ---------------------------------------------------------------------------
W, H = 726, 505
RECOMB = '#2a2a80'
RAXIS = '#3b3b9a'
FRAME = '#a8a8a8'
GENE = '#201f66'
fig = plt.figure(figsize=(W / 100, H / 100), dpi=100)


def px_axes(x0, y0, x1, y1):
    return fig.add_axes([x0 / W, 1 - y1 / H, (x1 - x0) / W, (y1 - y0) / H])


def fpx(x, y):
    return (x / W, 1 - y / H)


def frame(ax):
    for s in ax.spines.values():
        s.set_color(FRAME)
        s.set_linewidth(1.0)


def assoc_panel(box, xlim, ylim, rlim, yticks, pts, lab_l, lab_r, bg=(), grey=(), rpos=(), rrate=(), title=''):
    ax = px_axes(*box)
    frame(ax)
    ax.set_xlim(xlim)
    ax.set_ylim(ylim)
    ax.set_xticks([])
    ax.set_yticks(yticks)
    ax.tick_params(axis='y', length=3, width=0.8, labelsize=8, color='#333333', pad=1.5)
    ax.set_ylabel('-log$_{10}$(P-value)', fontsize=8)
    ax.yaxis.set_label_coords(lab_l, 0.5)
    ax.yaxis.label.set_va('center')
    r = ax.twinx()
    r.set_ylim(rlim)
    r.set_yticks([0, 20, 40, 60, 80, 100])
    r.tick_params(axis='y', length=3, width=0.8, labelsize=8, color=RAXIS, labelcolor=RAXIS, pad=1.5)
    r.set_ylabel('Recombination rate (cM/Mb)', fontsize=8, color=RAXIS, rotation=270)
    r.yaxis.set_label_coords(lab_r, 0.5)
    r.yaxis.label.set_va('center')
    for s in r.spines.values():
        s.set_visible(False)
    r.plot(rpos, rrate, color=RECOMB, lw=0.8, zorder=5)
    r.set_zorder(ax.get_zorder() + 1)
    r.patch.set_visible(False)
    k = rlim[1] / ylim[1]
    kw = dict(s=15, edgecolors='#4a4a4a', linewidths=0.35)
    if bg:
        r.scatter([p[0] for p in bg], [p[1] * k for p in bg], c=ld_colors['n'], zorder=2, **kw)
    if grey:
        r.scatter([p[0] for p in grey], [p[1] * k for p in grey], c=ld_colors['x'], zorder=2, **kw)
    for i, code in enumerate(['n', 'x', 'b', 'g', 'o', 'r', 'p']):
        sel = [p for p in pts if p[2] == code]
        if sel:
            r.scatter([p[0] for p in sel], [p[1] * k for p in sel],
                      c=ld_colors[code], zorder=3 + i * 0.1, **kw)
    ax.text(0.012, 0.985, title, transform=ax.transAxes, ha='left', va='top', fontsize=8)
    return ax, r


def gene_panel(box, xlim, genes, row0, rstep, xticks, xticklabels, xlabel):
    ax = px_axes(*box)
    frame(ax)
    ax.set_xlim(xlim)
    ax.set_ylim(box[3] - box[1], 0)
    ax.set_yticks([])
    ax.set_xticks(xticks)
    ax.set_xticklabels(xticklabels)
    ax.tick_params(axis='x', length=3, width=0.8, labelsize=8, color='#555555', labelcolor='#555555', pad=2)
    ax.set_xlabel(xlabel, fontsize=8, color='#444444', labelpad=2)
    span = xlim[1] - xlim[0]
    for name, strand, cx, row, g0, g1 in genes:
        ly = row0 + rstep * row
        shift = 0.007 * span if strand == '-' else -0.007 * span
        t = ax.text(cx + shift, ly, name, style='italic', ha='center', va='center', fontsize=8)
        if strand == '-':
            ax.annotate('\u2190', xy=(0, 0.45), xycoords=t, ha='right', va='center', fontsize=5)
        else:
            ax.annotate('\u2192', xy=(1, 0.45), xycoords=t, ha='left', va='center', fontsize=5)
        by = ly + 5.5
        if g1 - g0 > 0.04:
            # long gene: intron line with exon blocks at both ends
            ax.plot([g0, g1], [by, by], color=GENE, lw=0.7)
            ax.plot([g0, g0 + 0.012], [by, by], color=GENE, lw=1.8, solid_capstyle='butt')
            ax.plot([g1 - 0.008, g1], [by, by], color=GENE, lw=1.8, solid_capstyle='butt')
        else:
            ax.plot([g0, g1], [by, by], color=GENE, lw=1.7, solid_capstyle='butt')
    return ax


def scale(yl, rl, v):
    return v * rl[1] / yl[1]


# ---- panel A ----
A_X = (155.084, 156.219)
ylA1, rlA1 = (-0.47, 10.6), (-4.7, 106.0)
ylA2, rlA2 = (-0.72, 15.8), (-4.8, 105.33)
axA1, rA1 = assoc_panel((39, 15, 333, 179), A_X, ylA1, rlA1, [0, 2, 4, 6, 8, 10], gwas_a, -0.105, 1.087,
                        rpos=recomb_a_pos, rrate=recomb_a_rate, title='BMI GWAS; EAS LD')
axA2, rA2 = assoc_panel((39, 181, 333, 348), A_X, ylA2, rlA2, [0, 5, 10, 15], eqtl_a, -0.105, 1.087,
                        bg=eqtl_a_background, rpos=recomb_a_pos, rrate=recomb_a_rate,
                        title=r'$\mathit{DAP3}$ eQTL; Finn LD')
gene_panel((39, 349, 333, 470), A_X, genes_a, 10.0, 16.67, a_xticks, a_xticklabels, 'Position on chr1 (Mb)')

lk = dict(fontsize=8, ha='left', va='center', textcoords='figure fraction',
          arrowprops=dict(arrowstyle='-', color='#555555', lw=0.6, shrinkA=0, shrinkB=2.5))
rA1.annotate('rs860295', xy=(155.783, scale(ylA1, rlA1, 9.15)), xytext=fpx(233, 25), **lk)
rA2.annotate('rs860295', xy=(155.783, scale(ylA2, rlA2, 13.4)), xytext=fpx(232, 191), **lk)

# r2 legend
lg = px_axes(293, 14, 333, 94)
lg.set_xlim(0, 40)
lg.set_ylim(80, 0)
lg.set_xticks([])
lg.set_yticks([])
frame(lg)
lg.text(13, 9, 'r$^2$', ha='center', va='center', fontsize=8)
for i, code in enumerate(['r', 'o', 'g', 'b', 'n']):
    lg.add_patch(plt.Rectangle((7, 27 + 10 * i), 7, 10, color=ld_colors[code], lw=0))
for i, lab in enumerate(['0.8', '0.6', '0.4', '0.2']):
    lg.plot([14, 16], [37 + 10 * i, 37 + 10 * i], color='#333333', lw=0.6)
    lg.text(16.5, 37 + 10 * i, lab, ha='left', va='center', fontsize=8)

# ---- panel B ----
B_X = (28.135, 29.315)
ylB1, rlB1 = (-0.58, 11.22), (-5.4, 105.4)
ylB2, rlB2 = (-2.16, 33.9), (-6.7, 105.4)
axB1, rB1 = assoc_panel((399, 15, 690, 179), B_X, ylB1, rlB1, [0, 2, 4, 6, 8, 10], gwas_b, -0.088, 1.096,
                        rpos=recomb_b_pos, rrate=recomb_b_rate, title='BMI GWAS; EAS LD')
axB2, rB2 = assoc_panel((399, 181, 690, 348), B_X, ylB2, rlB2, [0, 5, 10, 15, 20, 25, 30], eqtl_b,
                        -0.088, 1.096, bg=eqtl_b_background, grey=eqtl_b_grey,
                        rpos=recomb_b_pos, rrate=recomb_b_rate, title=r'$\mathit{SULT1A2}$ eQTL; Finn LD')
gene_panel((399, 349, 690, 470), B_X, genes_b, 7.7, 15.0, b_xticks, b_xticklabels, 'Position on chr16 (Mb)')

lk2 = dict(lk)
lk2['va'] = 'top'
rB1.annotate('rs62034325\nGWAS lead', xy=(28.520, scale(ylB1, rlB1, 9.75)), xytext=fpx(598, 20),
             linespacing=1.0,
             **dict(lk2, arrowprops=dict(lk['arrowprops'], relpos=(0, 0.75))))
rB1.annotate('rs28698667\nlead eSNP', xy=(28.518, scale(ylB1, rlB1, 3.15)), xytext=fpx(415, 84),
             linespacing=1.0,
             **dict(lk2, arrowprops=dict(lk['arrowprops'], relpos=(1, 0.5))))
rB2.annotate('rs28698667\nlead eSNP', xy=(28.524, scale(ylB2, rlB2, 28.9)), xytext=fpx(542, 211),
             linespacing=1.0,
             **dict(lk2, arrowprops=dict(lk['arrowprops'], relpos=(0, 0.75))))
rB2.annotate('rs62034325\nGWAS lead', xy=(28.520, scale(ylB2, rlB2, 26.95)), xytext=fpx(403, 230),
             linespacing=1.0,
             **dict(lk2, arrowprops=dict(lk['arrowprops'], relpos=(1, 0.75))))

fig.text(*fpx(3, 10), 'A', fontsize=11, fontweight='bold', ha='left', va='center')
fig.text(*fpx(362, 10), 'B', fontsize=11, fontweight='bold', ha='left', va='center')

fig.savefig('out.png', dpi=100)
